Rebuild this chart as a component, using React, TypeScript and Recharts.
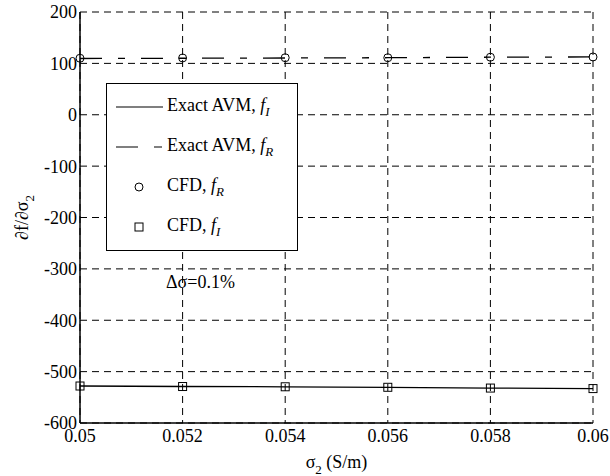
import {
  CartesianGrid,
  Legend,
  Line,
  LineChart,
  XAxis,
  YAxis,
} from "recharts";

const sigma = [0.05, 0.052, 0.054, 0.056, 0.058, 0.06];
const exactFR = [109.5, 110, 110.5, 111, 112, 112.5];
const exactFI = [-528, -529, -529.5, -530.5, -532, -533];
const cfdFR = [110, 110.5, 111, 111, 112, 112.5];
const cfdFI = [-528, -529, -529.5, -530.5, -532, -533];
const yTicks = [-600, -500, -400, -300, -200, -100, 0, 100, 200];

const rows = sigma.map((x, i) => ({
  x,
  exactFR: exactFR[i],
  exactFI: exactFI[i],
  cfdFR: cfdFR[i],
  cfdFI: cfdFI[i],
}));

const serif = "Liberation Serif";
const tickStyle = { fontFamily: serif, fontSize: 18, fill: "#000" };

const SquareDot = (p: any) => (
  <rect
    key={`sq-${p.index}`}
    x={p.cx - 4}
    y={p.cy - 4}
    width={8}
    height={8}
    fill="none"
    stroke="#000"
    strokeWidth={1}
  />
);

const Sym = ({ s }: { s: string }) => (
  <span>
    <i>f</i>
    <i style={{ fontSize: 13, position: "relative", top: 5 }}>{s}</i>
  </span>
);

const legendRows = [
  { top: 24, kind: "solid", label: "Exact AVM, ", s: "I" },
  { top: 64, kind: "dash", label: "Exact AVM, ", s: "R" },
  { top: 104, kind: "circle", label: "CFD, ", s: "R" },
  { top: 144, kind: "square", label: "CFD, ", s: "I" },
];

const renderLegend = () => (
  <div
    style={{
      position: "relative",
      width: 192,
      height: 168,
      boxSizing: "border-box",
      border: "1.5px solid #000",
      background: "#fff",
      fontFamily: serif,
      fontSize: 18,
      color: "#000",
    }}
  >
    {legendRows.map((r) => (
      <div key={r.top}>
        <svg
          width={50}
          height={12}
          style={{ position: "absolute", left: 8, top: r.top - 7 }}
        >
          {r.kind === "solid" && (
            <line x1={1} x2={48} y1={6} y2={6} stroke="#000" strokeWidth={1.2} />
          )}
          {r.kind === "dash" && (
            <line
              x1={1}
              x2={48}
              y1={6}
              y2={6}
              stroke="#000"
              strokeWidth={1.2}
              strokeDasharray="22 16 8 16"
            />
          )}
          {r.kind === "circle" && (
            <circle cx={24} cy={6} r={4} fill="none" stroke="#000" />
          )}
          {r.kind === "square" && (
            <rect x={20} y={2} width={8} height={8} fill="none" stroke="#000" />
          )}
        </svg>
        <div
          style={{
            position: "absolute",
            left: 60,
            top: r.top - 13,
            lineHeight: "20px",
            whiteSpace: "nowrap",
          }}
        >
          {r.label}
          <Sym s={r.s} />
        </div>
      </div>
    ))}
  </div>
);

const XLabel = (props: any) => {
  const vb = props.viewBox;
  return (
    <text
      x={vb.x + vb.width / 2}
      y={vb.y + 45}
      textAnchor="middle"
      fontFamily={serif}
      fontSize={18}
      fill="#000"
    >
      σ<tspan fontSize={13} dy={6}>2</tspan>
      <tspan dy={-6}> (S/m)</tspan>
    </text>
  );
};

const YLabel = (props: any) => {
  const vb = props.viewBox;
  const cx = vb.x + 8;
  const cy = vb.y + vb.height / 2;
  return (
    <text
      transform={`rotate(-90 ${cx} ${cy})`}
      x={cx}
      y={cy}
      textAnchor="middle"
      fontFamily={serif}
      fontSize={18}
      fill="#000"
    >
      ∂f/∂σ<tspan fontSize={13} dy={6}>2</tspan>
    </text>
  );
};

export default function App() {
  return (
    <div style={{ position: "absolute", left: 0, top: 0, width: 610, height: 476, background: "#fff" }}>
      <LineChart
        width={610}
        height={476}
        data={rows}
        margin={{ top: 12, right: 17, bottom: 13, left: 20 }}
      >
        <CartesianGrid stroke="#000" strokeWidth={1} strokeDasharray="7 5" />
        <XAxis
          dataKey="x"
          type="number"
          domain={[0.05, 0.06]}
          ticks={sigma}
          interval={0}
          height={40}
          tick={tickStyle}
          tickLine={false}
          tickSize={0}
          tickMargin={6}
          axisLine={{ stroke: "#000", strokeWidth: 1.5 }}
          tickFormatter={(v: number) => String(Number(v.toFixed(3)))}
          label={{ content: XLabel }}
        />
        <XAxis
          xAxisId="top"
          orientation="top"
          type="number"
          domain={[0.05, 0.06]}
          height={0}
          tick={false}
          tickLine={false}
          axisLine={{ stroke: "#000", strokeWidth: 1.5 }}
        />
        <YAxis
          type="number"
          domain={[-600, 200]}
          ticks={yTicks}
          interval={0}
          width={60}
          tick={tickStyle}
          tickLine={false}
          tickSize={0}
          tickMargin={3}
          axisLine={{ stroke: "#000", strokeWidth: 1.5 }}
          label={{ content: YLabel }}
        />
        <YAxis
          yAxisId="right"
          orientation="right"
          type="number"
          domain={[-600, 200]}
          width={0}
          tick={false}
          tickLine={false}
          axisLine={{ stroke: "#000", strokeWidth: 1.5 }}
        />
        <Legend
          layout="horizontal"
          verticalAlign="middle"
          align="center"
          content={renderLegend}
          wrapperStyle={{ left: 106, top: 83, width: 192, height: 168 }}
        />
        <Line
          dataKey="exactFI"
          stroke="#000"
          strokeWidth={1.3}
          dot={false}
          isAnimationActive={false}
        />
        <Line
          dataKey="exactFR"
          stroke="#000"
          strokeWidth={1.3}
          strokeDasharray="22 16 7 16"
          dot={false}
          isAnimationActive={false}
        />
        <Line
          dataKey="cfdFR"
          stroke="none"
          dot={{ r: 4, fill: "none", stroke: "#000", strokeWidth: 1 }}
          isAnimationActive={false}
        />
        <Line
          dataKey="cfdFI"
          stroke="none"
          dot={SquareDot}
          isAnimationActive={false}
        />
      </LineChart>
      <div
        style={{
          position: "absolute",
          left: 166,
          top: 271,
          fontFamily: serif,
          fontSize: 18,
          lineHeight: "22px",
          color: "#000",
        }}
      >
        Δσ=0.1%
      </div>
    </div>
  );
}
